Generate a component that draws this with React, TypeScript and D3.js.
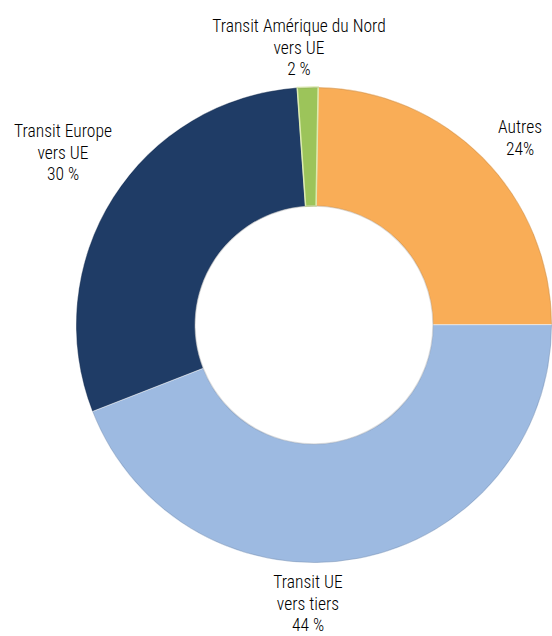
import React from "react";
import * as d3 from "d3";

const categories = ["Autres", "Transit UE vers tiers", "Transit Europe vers UE", "Transit Amérique du Nord vers UE"];
const values = [24.7, 44.1, 29.8, 1.4];
const colors = ["#F9AD57", "#9DBAE1", "#1F3C66", "#9CC45A"];
const labelLines = [
  ["Autres", "24%"],
  ["Transit UE", "vers tiers", "44 %"],
  ["Transit Europe", "vers UE", "30 %"],
  ["Transit Amérique du Nord", "vers UE", "2 %"],
];
const labelPos: [number, number][] = [
  [520, 133],
  [308, 588],
  [63, 137],
  [299, 32],
];

const W = 552;
const H = 636;
const cx = 314;
const cy = 325;
const outerR = 238;
const innerR = 119;

export default function App() {
  const pie = d3
    .pie<number>()
    .sort(null)
    .startAngle((1 * Math.PI) / 180)
    .endAngle((361 * Math.PI) / 180)
    .value((d) => d);
  const arcs = pie(values);
  const arc = d3.arc<d3.PieArcDatum<number>>().innerRadius(innerR).outerRadius(outerR);

  return (
    <svg
      width={W}
      height={H}
      style={{ position: "absolute", left: 0, top: 0, background: "#fff" }}
    >
      <g transform={`translate(${cx},${cy})`}>
        {arcs.map((a, i) => (
          <path
            key={categories[i]}
            d={arc(a) || ""}
            fill={colors[i]}
            stroke={i === 3 ? "#DCEBB0" : "#ffffff"}
            strokeOpacity={i === 3 ? 1 : 0.45}
            strokeWidth={i === 3 ? 1.5 : 1}
          />
        ))}
        <circle r={innerR} fill="none" stroke="#000" strokeOpacity={0.12} strokeWidth={1.5} />
        <circle r={outerR - 0.5} fill="none" stroke="#000" strokeOpacity={0.1} strokeWidth={1} />
      </g>
      <g
        fontFamily="'Roboto Condensed', 'Liberation Sans Narrow', 'Arial Narrow', sans-serif"
        fontSize={17.5}
        fontWeight={300}
        fill="#000"
        textAnchor="middle"
      >
        {labelLines.map((lines, i) =>
          lines.map((t, j) => (
            <text key={`${i}-${j}`} x={labelPos[i][0]} y={labelPos[i][1] + j * 21.5}>
              {t}
            </text>
          ))
        )}
      </g>
    </svg>
  );
}
